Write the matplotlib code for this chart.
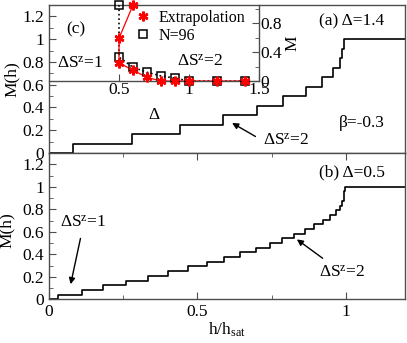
import matplotlib
matplotlib.use("Agg")
import matplotlib.pyplot as plt
from matplotlib.ticker import MultipleLocator

plt.rcParams['font.family'] = ['Liberation Serif', 'DejaVu Serif']
plt.rcParams['mathtext.fontset'] = 'custom'
plt.rcParams['mathtext.rm'] = 'Liberation Serif'
plt.rcParams['mathtext.it'] = 'Liberation Serif:italic'

# panel (a), Delta = 1.4 : step edges in h/hsat and magnetization levels
h_a = [0.0, 0.08, 0.28, 0.44, 0.585, 0.70, 0.79, 0.865, 0.92, 0.957, 0.98, 0.987, 0.994, 1.0, 1.2]
m_a = [0.0, 0.083, 0.167, 0.25, 0.333, 0.417, 0.5, 0.583, 0.667, 0.75, 0.833, 0.917, 1.0, 1.0, 1.0]

# panel (b), Delta = 0.5
h_b = [0.0, 0.031, 0.11, 0.183, 0.26, 0.333, 0.40, 0.468, 0.532, 0.59, 0.645, 0.697, 0.744,
       0.787, 0.825, 0.863, 0.894, 0.923, 0.946, 0.966, 0.98, 0.988, 0.993, 0.996, 0.998, 1.0, 1.2]
m_b = [0.0, 0.042, 0.083, 0.125, 0.167, 0.208, 0.25, 0.292, 0.333, 0.375, 0.417, 0.458, 0.5,
       0.542, 0.583, 0.625, 0.667, 0.708, 0.75, 0.792, 0.833, 0.875, 0.917, 0.958, 1.0, 1.0, 1.0]

# inset (c)
delta_n96 = [0.5, 0.5, 0.6, 0.7, 0.8, 0.9, 1.0, 1.2, 1.4]
m_n96 = [1.05, 0.33, 0.19, 0.12, 0.07, 0.04, 0.0, 0.0, 0.0]
delta_ext = [0.6, 0.5, 0.5, 0.6, 0.7, 0.8, 0.9, 1.0, 1.2, 1.4]
m_ext = [1.05, 0.59, 0.25, 0.15, 0.05, 0.0, 0.0, 0.0, 0.0, 0.0]

fs = 12.5
spine_c = '0.3'

fig = plt.figure(figsize=(4.07, 3.43), dpi=100)
ax1 = fig.add_axes([0.1204, 0.5539, 0.8747, 0.4315])
ax2 = fig.add_axes([0.1204, 0.1274, 0.8747, 0.4265])
ins = fig.add_axes([0.1204, 0.7638, 0.516, 0.2216])

for ax in (ax1, ax2):
    ax.set_xlim(0, 1.2)
    ax.set_ylim(0, 1.3)
    ax.yaxis.set_major_locator(MultipleLocator(0.2))
    ax.yaxis.set_minor_locator(MultipleLocator(0.1))
    ax.xaxis.set_major_locator(MultipleLocator(0.5))
    ax.xaxis.set_minor_locator(MultipleLocator(0.25))
    ax.tick_params(which='both', direction='in', labelsize=fs, color=spine_c, right=False)
    ax.tick_params(which='major', length=5)
    ax.tick_params(which='minor', length=3)
    for s in ax.spines.values():
        s.set_color(spine_c)
        s.set_linewidth(1.0)
    ax.set_yticks([0, 0.2, 0.4, 0.6, 0.8, 1.0, 1.2])
    ax.set_yticklabels(['0', '0.2', '0.4', '0.6', '0.8', '1', '1.2'])

ax1.set_ylabel('M(h)', fontsize=fs, labelpad=2)
ax2.set_ylabel('M(h)', fontsize=fs, labelpad=2)
ax2.yaxis.set_label_coords(-0.095, 0.47)

ax1.tick_params(axis='x', which='both', bottom=False, labelbottom=False)
ax2.tick_params(axis='x', which='both', top=True)
ax2.set_xticks([0, 0.5, 1.0])
ax2.set_xticklabels(['0', '0.5', '1'])
ax2.set_xlabel('h/h$_\\mathrm{sat}$', fontsize=fs, labelpad=0)

ax1.step(h_a, m_a, where='post', color='black', lw=1.2)
ax2.step(h_b, m_b, where='post', color='black', lw=1.2)

sz = 'ΔS$^\\mathrm{z}$'
ax1.text(1.02, 1.156, '(a) Δ=1.4', fontsize=fs, ha='center', va='center')
ax1.text(1.054, 0.267, 'β=-0.3', fontsize=fs, ha='center', va='center')
ax1.text(0.80, 0.11, sz + '=2', fontsize=fs, ha='center', va='center')
ax1.annotate('', xy=(0.609, 0.276), xytext=(0.704, 0.133),
             arrowprops=dict(arrowstyle='-|>', color='black', lw=1, mutation_scale=9))

ax2.text(1.02, 1.13, '(b) Δ=0.5', fontsize=fs, ha='center', va='center')
ax2.text(0.114, 0.68, sz + '=1', fontsize=fs, ha='center', va='center')
ax2.annotate('', xy=(0.071, 0.11), xytext=(0.108, 0.565),
             arrowprops=dict(arrowstyle='-|>', color='black', lw=1, mutation_scale=9))
ax2.text(0.987, 0.235, sz + '=2', fontsize=fs, ha='center', va='center')
ax2.annotate('', xy=(0.828, 0.547), xytext=(0.93, 0.35),
             arrowprops=dict(arrowstyle='-|>', color='black', lw=1, mutation_scale=9))

# inset
ins.patch.set_alpha(0)
ins.set_xlim(0, 1.5)
ins.set_ylim(0, 1.05)
ins.spines['left'].set_visible(False)
ins.spines['top'].set_visible(False)
for s in ('bottom', 'right'):
    ins.spines[s].set_color(spine_c)
    ins.spines[s].set_linewidth(1.0)
ins.yaxis.tick_right()
ins.yaxis.set_label_position('right')
ins.set_yticks([0, 0.4, 0.8])
ins.set_yticklabels(['0', '0.4', '0.8'])
ins.yaxis.set_minor_locator(MultipleLocator(0.2))
ins.set_xticks([0.5, 1.0, 1.5])
ins.set_xticklabels(['0.5', '1', '1.5'])
ins.tick_params(which='both', direction='in', labelsize=fs, color=spine_c, pad=1)
ins.tick_params(which='major', length=5)
ins.tick_params(which='minor', length=3)
ins.set_xlabel('Δ', fontsize=fs, labelpad=6)
ins.set_ylabel('M', fontsize=fs, labelpad=2, rotation=90)

ins.plot(delta_n96, m_n96, ls=':', color='black', lw=1.2, clip_on=False)
ins.plot(delta_ext, m_ext, ls='-', color='red', lw=0.9, clip_on=False)
ins.plot(delta_n96, m_n96, ls='none', marker='s', ms=5.5, mfc='none', mec='black', mew=1.1,
         clip_on=False, label='N=96', zorder=3)
ins.plot(delta_ext, m_ext, ls='none', marker=(6, 2, 0), ms=7, color='red', mew=1.8,
         clip_on=False, label='Extrapolation', zorder=4)
handles, labels = ins.get_legend_handles_labels()
ins.legend(handles[::-1], labels[::-1], loc='upper left', bbox_to_anchor=(0.41, 0.94),
           frameon=False, fontsize=11.5, handlelength=1.0, handletextpad=0.5,
           labelspacing=0.15, borderaxespad=0, borderpad=0)

ins.text(0.19, 0.71, '(c)', fontsize=fs, ha='center', va='center')
ins.text(0.22, 0.24, sz + '=1', fontsize=fs, ha='center', va='center')
ins.text(1.08, 0.27, sz + '=2', fontsize=fs, ha='center', va='center')

fig.savefig('out.png', dpi=100)
